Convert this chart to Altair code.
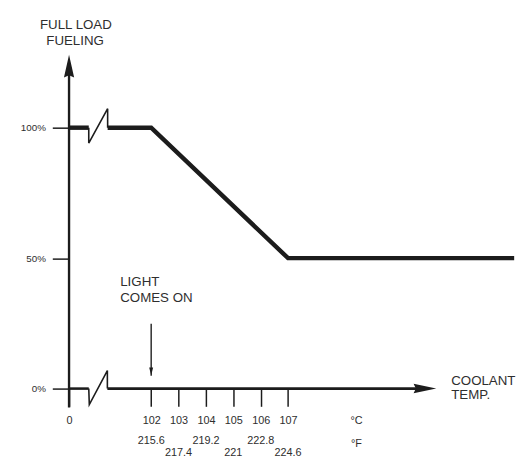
import altair as alt
import pandas as pd

# ---- data -------------------------------------------------------------
# coolant temperature ticks (deg C) and their deg F equivalents
temps_c = [102, 103, 104, 105, 106, 107]
temps_f = ["215.6", "217.4", "219.2", "221", "222.8", "224.6"]
origin_c = 99          # axis origin, labelled "0" (broken axis)
fuel_ticks = [0, 50, 100]

# full-load fueling curve (deg C, % fueling), with axis break
fuel_left_x = [99.0, 99.72]
fuel_left_y = [100, 100]
fuel_break_x = [99.72, 99.72, 100.41, 100.41]
fuel_break_y = [100, 94.1, 107.3, 100]
fuel_main_x = [100.41, 102, 107, 115.26]
fuel_main_y = [100, 100, 50, 50]

# coolant temperature axis line, with break
axis_left_x = [99.0, 99.72]
axis_left_y = [0, 0]
axis_break_x = [99.72, 99.74, 100.40, 100.40]
axis_break_y = [0, -6.15, 6.9, 0]
axis_main_x = [100.40, 112.0]
axis_main_y = [0, 0]

# y axis line
yaxis_x = [99.0]
yaxis_y = [-7.2]
yaxis_y2 = [122.0]

# annotations
big_text = ["FULL LOAD", "FUELING", "LIGHT", "COMES ON", "COOLANT", "TEMP."]
big_x = [99.25, 99.22, 100.87, 100.87, 112.96, 112.96]
big_y = [139.2, 133.2, 40.75, 34.7, 3.0, -2.3]
big_align = ["center", "center", "left", "left", "left", "left"]

unit_text = ["\u00b0C", "\u00b0F"]
unit_x = [109.5, 109.5]
unit_y = [-12.3, -21.1]

light_x = [102]
light_y = [24.9]
light_y2 = [4.9]

# ---- scales ---------------------------------------------------------------
W, H = 518, 454
xdom = [96.77, 115.40]
ydom = [-26.79, 144.53]
INK = "#1c1c1c"
TXT = "#2e2e2e"
FONT = "Liberation Sans"

x_axis = alt.Axis(
    values=[origin_c] + temps_c,
    labelExpr="datum.value == 99 ? '0' : datum.label",
    format="d", title=None, domain=False, grid=False,
    tickSize=18, tickWidth=1.5, tickColor=INK,
    labelFontSize=11, labelFont=FONT, labelColor=TXT,
    labelPadding=8, offset=-71, labelFlush=False, labelOverlap=False,
)
y_axis = alt.Axis(
    values=fuel_ticks, labelExpr="datum.value + '%'",
    title=None, domain=False, grid=False,
    tickSize=17, tickWidth=1.5, tickColor=INK,
    labelFontSize=10, labelFont=FONT, labelColor=TXT,
    labelPadding=7, offset=-62, labelFlush=False, labelOverlap=False,
)
xs = alt.Scale(domain=xdom, nice=False, zero=False)
ys = alt.Scale(domain=ydom, nice=False, zero=False)


def X(f="x"):
    return alt.X(f + ":Q", scale=xs, axis=x_axis)


def Y(f="y"):
    return alt.Y(f + ":Q", scale=ys, axis=y_axis)


def path(xv, yv, width):
    df = pd.DataFrame({"x": xv, "y": yv, "o": list(range(len(xv)))})
    return alt.Chart(df).mark_line(
        color=INK, strokeWidth=width, strokeCap="butt", strokeJoin="miter"
    ).encode(x=X(), y=Y(), order="o:Q")


def arrow(xv, yv, shape, size):
    df = pd.DataFrame({"x": [xv], "y": [yv]})
    return alt.Chart(df).mark_point(
        shape=shape, size=size, filled=True, color=INK, opacity=1, strokeWidth=0
    ).encode(x=X(), y=Y())


layers = [
    path(fuel_left_x, fuel_left_y, 4.5),
    path(fuel_break_x, fuel_break_y, 1.6),
    path(fuel_main_x, fuel_main_y, 4.5),
    path(axis_left_x, axis_left_y, 2.6),
    path(axis_break_x, axis_break_y, 1.6),
    path(axis_main_x, axis_main_y, 2.6),
]

yline = alt.Chart(pd.DataFrame({"x": yaxis_x, "y": yaxis_y, "y2": yaxis_y2})).mark_rule(
    color=INK, strokeWidth=2.4
).encode(x=X(), y=Y(), y2="y2:Q")
layers.append(yline)

light = alt.Chart(pd.DataFrame({"x": light_x, "y": light_y, "y2": light_y2})).mark_rule(
    color=INK, strokeWidth=1.4
).encode(x=X(), y=Y(), y2="y2:Q")
layers.append(light)

layers.append(arrow(112.0, 0, "M-1,-0.42L1,0L-1,0.42L-0.8,0Z", 529))
layers.append(arrow(99.0, 123.6, "M0,-1L0.45,1L0,0.8L-0.45,1Z", 529))
layers.append(arrow(102.0, 6.6, "M-0.5,-1L0.5,-1L0,1Z", 64))

big_df = pd.DataFrame({"x": big_x, "y": big_y, "t": big_text, "a": big_align})
for al in ["center", "left"]:
    layers.append(
        alt.Chart(big_df[big_df.a == al]).mark_text(
            align=al, baseline="middle", font=FONT, fontSize=13.5, color=TXT
        ).encode(x=X(), y=Y(), text="t:N")
    )

unit_df = pd.DataFrame({"x": unit_x, "y": unit_y, "t": unit_text})
layers.append(
    alt.Chart(unit_df).mark_text(
        align="center", baseline="middle", font=FONT, fontSize=11, color=TXT
    ).encode(x=X(), y=Y(), text="t:N")
)

f_rows = [-20.0 if i % 2 == 0 else -24.8 for i in range(len(temps_f))]
f_df = pd.DataFrame({"x": temps_c, "y": f_rows, "t": temps_f})
layers.append(
    alt.Chart(f_df).mark_text(
        align="center", baseline="middle", font=FONT, fontSize=11, color=TXT
    ).encode(x=X(), y=Y(), text="t:N")
)

chart = alt.layer(*layers).properties(
    width=W, height=H, autosize=alt.AutoSizeParams(type="none"), padding=0,
    background="white",
).configure_view(stroke=None)

chart.save("out.html", embed_options={"renderer": "svg", "actions": False})
